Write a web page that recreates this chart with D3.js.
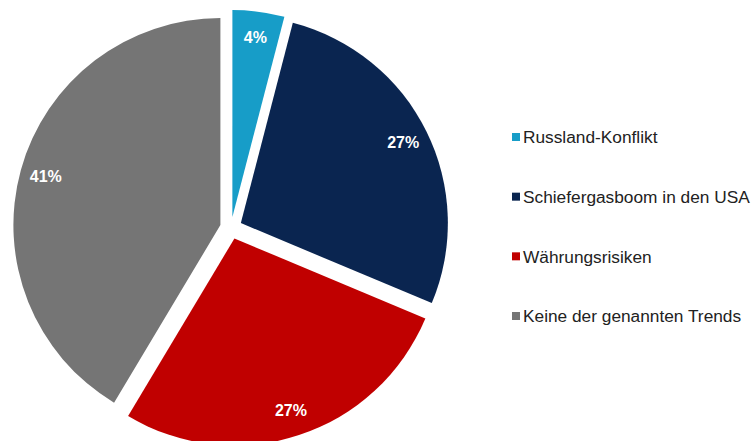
<!DOCTYPE html>
<html>
<head>
<meta charset="utf-8">
<script src="https://cdn.jsdelivr.net/npm/d3@7"></script>
<style>
  html, body { margin: 0; padding: 0; background: #fff; }
  svg { display: block; }
</style>
</head>
<body>
<svg id="chart" width="752" height="441"></svg>
<script>
// Survey answer shares (percent)
const categories = ["Russland-Konflikt", "Schiefergasboom in den USA", "Währungsrisiken", "Keine der genannten Trends"];
const values = [4, 27, 27, 41];
const colors = ["#179dc8", "#0a2550", "#c00000", "#757575"];

const svg = d3.select("#chart");
const cx = 231, cy = 228, radius = 207, explode = 11;

const pie = d3.pie().sort(null).value(d => d)(values);
const arc = d3.arc().innerRadius(0).outerRadius(radius);
const labelArc = d3.arc().innerRadius(radius * 0.875).outerRadius(radius * 0.875);

const g = svg.append("g").attr("transform", `translate(${cx},${cy})`);

// Each slice is pushed out along its bisector
function offset(d) {
  const a = (d.startAngle + d.endAngle) / 2;
  return [Math.sin(a) * explode, -Math.cos(a) * explode];
}

const slices = g.selectAll("g.slice").data(pie).enter().append("g")
  .attr("class", "slice")
  .attr("transform", d => { const o = offset(d); return `translate(${o[0]},${o[1]})`; });

slices.append("path")
  .attr("d", arc)
  .attr("fill", (d, i) => colors[i]);

slices.append("text")
  .attr("transform", d => `translate(${labelArc.centroid(d)})`)
  .attr("text-anchor", "middle")
  .attr("dy", "0.35em")
  .attr("fill", "#fff")
  .attr("font-family", "'Liberation Sans', Arial, sans-serif")
  .attr("font-weight", "bold")
  .attr("font-size", 16)
  .text(d => d.data + "%");

// Legend
const legendY = d3.scalePoint().domain(categories).range([137, 316]);
const legend = svg.append("g").selectAll("g").data(categories).enter().append("g")
  .attr("transform", d => `translate(512,${legendY(d)})`);

legend.append("rect")
  .attr("x", 0).attr("y", -4).attr("width", 8).attr("height", 8)
  .attr("fill", (d, i) => colors[i]);

legend.append("text")
  .attr("x", 11)
  .attr("dy", "0.36em")
  .attr("fill", "#222")
  .attr("font-family", "'Liberation Sans', Arial, sans-serif")
  .attr("font-size", 17.3)
  .text(d => d);
</script>
</body>
</html>
